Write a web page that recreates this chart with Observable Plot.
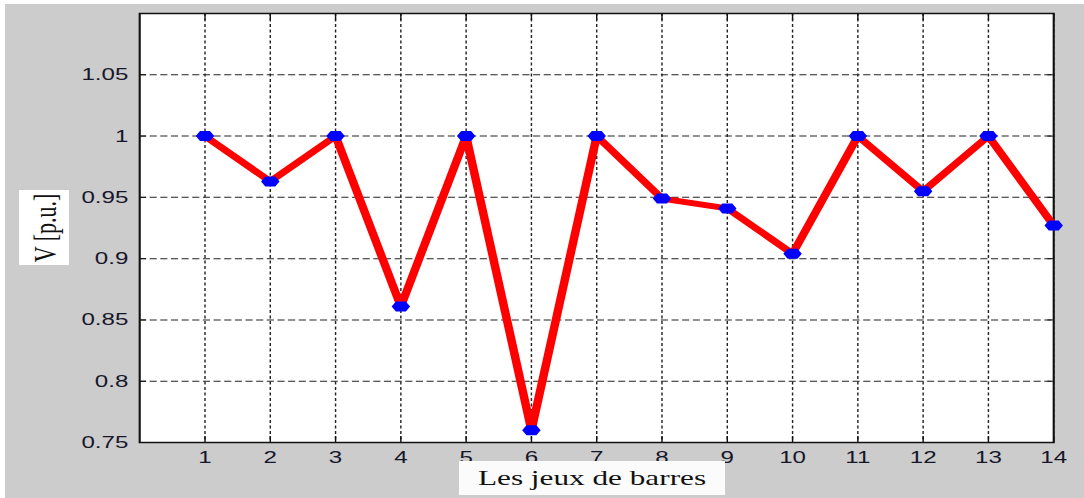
<!DOCTYPE html>
<html>
<head>
<meta charset="utf-8">
<script src="https://cdn.jsdelivr.net/npm/d3@7"></script>
<script src="https://cdn.jsdelivr.net/npm/@observablehq/plot@0.6"></script>
<style>
  html, body { margin: 0; padding: 0; background: #ffffff; }
  #fig { position: relative; width: 1084px; height: 498px; overflow: hidden; }
  #chart { position: absolute; left: 5px; top: 4px; }
  .lab {
    position: absolute;
    background: #fbfbfb;
    font-family: "Liberation Serif", "Times New Roman", serif;
    font-size: 22px;
    color: #111;
    overflow: visible;
  }
  .lab span {
    position: absolute;
    left: 50%;
    top: 50%;
    white-space: nowrap;
    line-height: 1;
  }
  #xlab { left: 459px; top: 461px; width: 266px; height: 34px; }
  #xlab span { transform: translate(-50%, -50%) scaleX(1.42); }
  #ylab { left: 19px; top: 190px; width: 50px; height: 75px; background: #ffffff; }
  #ylab span { transform: translate(-50%, -50%) scaleX(1.42) rotate(-90deg); margin-left: 2px; }
</style>
</head>
<body>
<div id="fig">
  <div id="chart"></div>
  <div class="lab" id="xlab"><span></span></div>
  <div class="lab" id="ylab"><span></span></div>
</div>
<script>
// Bus voltage profile (per unit) for the 14 busbars
const buses = [1, 2, 3, 4, 5, 6, 7, 8, 9, 10, 11, 12, 13, 14];
const voltages = [1.000, 0.963, 1.000, 0.861, 1.000, 0.760, 1.000, 0.949, 0.941, 0.904, 1.000, 0.955, 1.000, 0.927];
const xTicks = [1, 2, 3, 4, 5, 6, 7, 8, 9, 10, 11, 12, 13, 14];
const yTicks = [0.75, 0.8, 0.85, 0.9, 0.95, 1, 1.05];
const xLabel = "Les jeux de barres";
const yLabel = "V [p.u.]";

// The figure is drawn in a narrower coordinate space and stretched horizontally.
const SX = 1.42;
const W = 1079, H = 494;
const w0 = W / SX;

const rows = buses.map((b, i) => ({bus: b, v: voltages[i]}));

// Filled blob marker, slightly wider than tall
const marker = {
  draw(ctx) {
    ctx.moveTo(-6.5, 0);
    ctx.lineTo(-3.5, -5);
    ctx.lineTo(3.5, -5);
    ctx.lineTo(6.5, 0);
    ctx.lineTo(3.5, 5);
    ctx.lineTo(-3.5, 5);
    ctx.closePath();
  }
};

const fmt = d => String(+d.toFixed(2));

const chart = Plot.plot({
  width: w0,
  height: H,
  marginLeft: 134 / SX,
  marginRight: 31 / SX,
  marginTop: 9,
  marginBottom: 56,
  x: {domain: [0, 14], label: null},
  y: {domain: [0.75, 1.1], label: null},
  style: {
    background: "#cccccc",
    fontFamily: "'Liberation Sans', Arial, sans-serif",
    fontSize: "17px",
    color: "#16162a"
  },
  marks: [
    Plot.frame({fill: "white", stroke: null}),
    Plot.gridX(xTicks, {stroke: "#222", strokeOpacity: 1, strokeWidth: 1, strokeDasharray: "3,2.5"}),
    Plot.gridY(yTicks.slice(1), {stroke: "#222", strokeOpacity: 1, strokeWidth: 1, strokeDasharray: "5,2.5"}),
    Plot.axisX(xTicks, {anchor: "bottom", tickSize: -6, tickPadding: 14.5, tickFormat: fmt, label: null, stroke: "#111"}),
    Plot.axisX(xTicks, {anchor: "top", tickSize: -6, tickFormat: () => "", label: null, stroke: "#111"}),
    Plot.axisY(yTicks, {anchor: "left", tickSize: -5, tickPadding: 13, tickFormat: fmt, label: null, stroke: "#111"}),
    Plot.axisY(yTicks, {anchor: "right", tickSize: -5, tickFormat: () => "", label: null, stroke: "#111"}),
    Plot.frame({stroke: "#111", strokeWidth: 1.5}),
    Plot.line(rows, {x: "bus", y: "v", stroke: "#ff0000", strokeWidth: 6, strokeLinejoin: "bevel"}),
    Plot.dot(rows, {x: "bus", y: "v", symbol: marker, fill: "#0000ff", stroke: "none"})
  ]
});

chart.setAttribute("width", W);
chart.setAttribute("height", H);
chart.setAttribute("preserveAspectRatio", "none");
chart.style.width = W + "px";
chart.style.height = H + "px";
chart.style.maxWidth = "none";
document.getElementById("chart").appendChild(chart);

document.querySelector("#xlab span").textContent = xLabel;
document.querySelector("#ylab span").textContent = yLabel;
</script>
</body>
</html>
